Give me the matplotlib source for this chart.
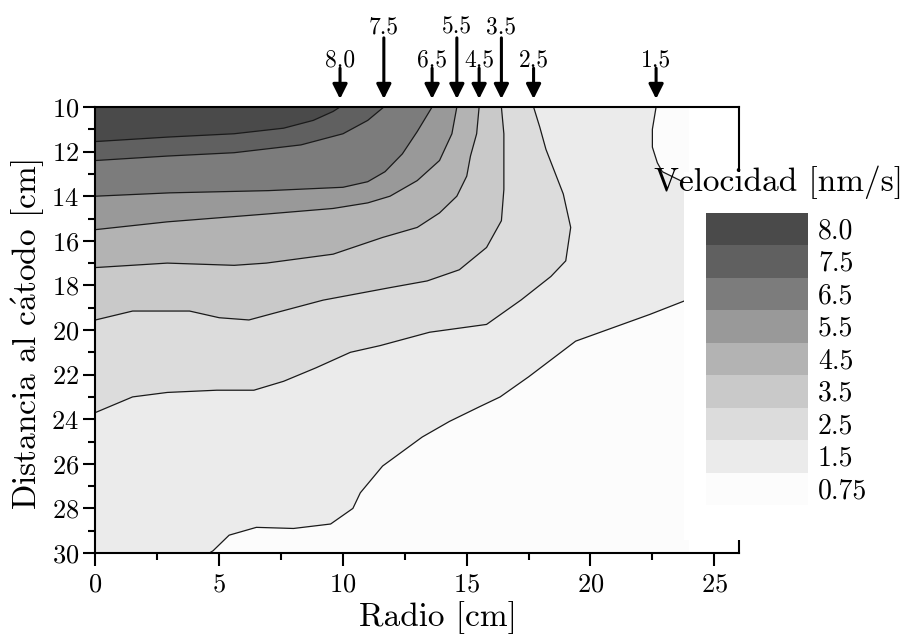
import matplotlib
matplotlib.use('Agg')
import matplotlib.pyplot as plt
from matplotlib.patches import Patch, Rectangle
from matplotlib.ticker import MultipleLocator

plt.rcParams['font.family'] = 'cmr10'
plt.rcParams['mathtext.fontset'] = 'cm'
plt.rcParams['axes.formatter.use_mathtext'] = True

# velocity bands [nm/s], lowest first
LEVELS = [0.75, 1.5, 2.5, 3.5, 4.5, 5.5, 6.5, 7.5, 8.0]
LEVEL_LABELS = ['0.75', '1.5', '2.5', '3.5', '4.5', '5.5', '6.5', '7.5', '8.0']
GREYS = ['#fcfcfc', '#ebebeb', '#dcdcdc', '#c9c9c9', '#b3b3b3',
         '#999999', '#7c7c7c', '#606060', '#4a4a4a']

# measured domain: radio [cm], distancia al catodo [cm]
R_DOMAIN = (0, 24)
Z_DOMAIN = (10, 30)

# contour lines, from the top edge (z = 10) outwards
R_80 = [9.88, 9.6, 8.8, 7.6, 5.6, 2.9, 0]
Z_80 = [10, 10.2, 10.6, 10.95, 11.2, 11.35, 11.55]

R_75 = [11.65, 11.0, 10.0, 8.3, 5.6, 2.9, 0]
Z_75 = [10, 10.6, 11.2, 11.7, 12.05, 12.2, 12.4]

R_65 = [13.6, 13.0, 12.4, 11.7, 11.0, 10.0, 7.0, 3.0, 0]
Z_65 = [10, 11.1, 12.1, 12.9, 13.35, 13.6, 13.75, 13.85, 14.0]

R_55 = [14.6, 14.4, 13.9, 13.0, 11.9, 11.0, 9.6, 6.9, 2.9, 0]
Z_55 = [10, 11.2, 12.4, 13.3, 14.0, 14.3, 14.55, 14.8, 15.15, 15.5]

R_45 = [15.5, 15.4, 15.15, 15.0, 14.6, 13.9, 13.0, 11.6, 9.6, 6.9, 5.6, 2.9, 0]
Z_45 = [10, 11.2, 12.2, 13.1, 14.0, 14.75, 15.4, 15.85, 16.6, 17.0, 17.1, 17.0, 17.2]

R_35 = [16.4, 16.5, 16.5, 16.4, 15.8, 14.7, 13.4, 11.9, 9.2, 7.2, 6.2, 5.0, 3.8, 1.5, 0]
Z_35 = [10, 11.2, 13.7, 15.1, 16.3, 17.3, 17.8, 18.1, 18.66, 19.25, 19.55, 19.45,
        19.15, 19.15, 19.55]

R_25 = [17.7, 17.95, 18.2, 18.9, 19.2, 19.0, 18.4, 17.2, 15.8, 13.5, 11.5, 10.3,
        8.9, 7.6, 6.4, 4.9, 2.9, 1.5, 0]
Z_25 = [10, 10.9, 11.9, 13.9, 15.4, 16.9, 17.6, 18.65, 19.75, 20.1, 20.7, 21.0,
        21.7, 22.3, 22.7, 22.7, 22.8, 23.0, 23.7]

R_15 = [22.65, 22.5, 22.5, 22.7, 22.9, 24.0, 24.0, 23.9, 22.4, 19.4, 17.5, 16.35,
        15.5, 14.3, 13.2, 11.6, 10.7, 10.4, 9.5, 8.0, 6.5, 5.4, 4.75, 4.6]
Z_15 = [10, 11.0, 11.8, 12.5, 12.9, 13.5, 18.5, 18.65, 19.3, 20.5, 22.1, 23.0,
        23.45, 24.1, 24.8, 26.1, 27.3, 28.0, 28.7, 28.9, 28.85, 29.2, 29.9, 30.0]

CURVES = {1.5: (R_15, Z_15), 2.5: (R_25, Z_25), 3.5: (R_35, Z_35),
          4.5: (R_45, Z_45), 5.5: (R_55, Z_55), 6.5: (R_65, Z_65),
          7.5: (R_75, Z_75), 8.0: (R_80, Z_80)}

# arrows over the plot, marking where each contour leaves the top edge
ARROW_LEVELS = [8.0, 7.5, 6.5, 5.5, 4.5, 3.5, 2.5, 1.5]
ARROW_LONG = [False, True, False, True, False, True, False, False]


def draw_bands(ax):
    r0, r1 = R_DOMAIN
    z0, z1 = Z_DOMAIN
    ax.fill([r0, r1, r1, r0], [z0, z0, z1, z1], color=GREYS[0], lw=0)
    for level, grey in zip(LEVELS[1:], GREYS[1:]):
        r, z = CURVES[level]
        # close each region over the corner (0, 10), where velocity is highest
        if z[-1] >= z1:
            pr, pz = r + [r0, r0], z + [z1, z0]
        else:
            pr, pz = r + [r0], z + [z0]
        ax.fill(pr, pz, color=grey, lw=0)
        ax.plot(r, z, color='#1a1a1a', lw=0.9)


def draw_arrows(ax):
    coords = ('data', 'axes fraction')
    for level, is_long in zip(ARROW_LEVELS, ARROW_LONG):
        r = CURVES[level][0][0]
        start = 1.155 if is_long else 1.087
        text_y = 1.178 if is_long else 1.105
        ax.annotate('', xy=(r, 1.018), xytext=(r, start),
                    xycoords=coords, textcoords=coords,
                    arrowprops=dict(arrowstyle='-|>,head_length=0.4,head_width=0.2',
                                    mutation_scale=22, lw=2.2, color='k',
                                    shrinkA=0, shrinkB=0),
                    annotation_clip=False)
        ax.annotate(LEVEL_LABELS[LEVELS.index(level)], xy=(r, text_y),
                    xycoords=coords, ha='center', va='center', fontsize=17,
                    annotation_clip=False)


def main():
    fig = plt.figure(figsize=(9.04, 6.35), dpi=100)
    ax = fig.add_axes([95.5 / 904, 1 - 553 / 635, 643.5 / 904, 446 / 635])

    draw_bands(ax)
    draw_arrows(ax)

    ax.set_xlim(0, 26)
    ax.set_ylim(30, 10)
    ax.xaxis.set_major_locator(MultipleLocator(5))
    ax.xaxis.set_minor_locator(MultipleLocator(2.5))
    ax.yaxis.set_major_locator(MultipleLocator(2))
    ax.yaxis.set_minor_locator(MultipleLocator(1))
    ax.tick_params(which='both', direction='out', top=False, right=False,
                   width=1.5, labelsize=19)
    ax.tick_params(which='major', length=9)
    ax.tick_params(which='minor', length=5)
    ax.tick_params(axis='x', pad=5)
    ax.tick_params(axis='y', pad=3)
    for spine in ax.spines.values():
        spine.set_linewidth(1.5)

    ax.set_xlabel('Radio [cm]', fontsize=24, va='top')
    ax.set_ylabel(r'Distancia al c$\acute{\mathrm{a}}$todo [cm]', fontsize=24)
    ax.xaxis.set_label_coords(0.532, -0.108)
    ax.yaxis.set_label_coords(-0.075, 0.49)

    # white legend panel sitting over the right part of the plot
    fig.add_artist(Rectangle((684 / 904, 1 - 540 / 635), 220 / 904, 368 / 635,
                             transform=fig.transFigure, facecolor='white',
                             edgecolor='none', zorder=2))
    fig.text(779 / 904, 1 - 182 / 635, 'Velocidad [nm/s]', fontsize=24,
             ha='center', va='center', zorder=6)
    handles = [Patch(facecolor=g, edgecolor='none') for g in GREYS[::-1]]
    fig.legend(handles, LEVEL_LABELS[::-1], loc='upper left',
               bbox_to_anchor=(706 / 904, 1 - 213 / 635),
               bbox_transform=fig.transFigure, frameon=False,
               borderpad=0, borderaxespad=0, handlelength=3.67,
               handleheight=1.42, handletextpad=0.36, labelspacing=0,
               fontsize=20)

    fig.savefig('out.png', dpi=100)


if __name__ == '__main__':
    main()
